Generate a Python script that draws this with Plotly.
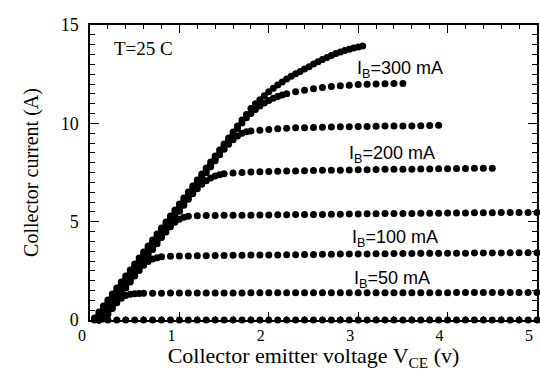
import plotly.graph_objects as go

# shared voltage grid (V) for the flat (active-region) parts of the curves
VCE = [0.1, 0.2, 0.3, 0.4, 0.5, 0.6, 0.7, 0.8, 0.9, 1.0,
       1.1, 1.2, 1.3, 1.4, 1.5, 1.6, 1.7, 1.8, 1.9, 2.0,
       2.1, 2.2, 2.3, 2.4, 2.5, 2.6, 2.7, 2.8, 2.9, 3.0,
       3.1, 3.2, 3.3, 3.4, 3.5, 3.6, 3.7, 3.8, 3.9, 4.0,
       4.1, 4.2, 4.3, 4.4, 4.5, 4.6, 4.7, 4.8, 4.9, 5.0]

# rising (saturation) voltage grid
VR = [0.10, 0.15, 0.20, 0.25, 0.30, 0.35, 0.40, 0.45, 0.50, 0.55,
      0.60, 0.65, 0.70, 0.75, 0.80, 0.85, 0.90, 0.95, 1.00, 1.05,
      1.10, 1.15, 1.20, 1.25, 1.30, 1.35, 1.40, 1.45, 1.50, 1.55,
      1.60, 1.65, 1.70, 1.75, 1.80, 1.85, 1.90, 1.95, 2.00, 2.05,
      2.10, 2.15, 2.20, 2.25, 2.30, 2.35, 2.40, 2.45, 2.50, 2.55,
      2.60, 2.65, 2.70, 2.75, 2.80, 2.85, 2.90, 2.95, 3.00, 3.05]

# IB = 0
ib0_x = [0.05] + VCE
ib0_y = [0.0, 0.0, 0.0, 0.0, 0.0, 0.0, 0.0, 0.0, 0.0, 0.0, 0.0,
         0.0, 0.0, 0.0, 0.0, 0.0, 0.0, 0.0, 0.0, 0.0, 0.0,
         0.0, 0.0, 0.0, 0.0, 0.0, 0.0, 0.0, 0.0, 0.0, 0.0,
         0.0, 0.0, 0.0, 0.0, 0.0, 0.0, 0.0, 0.0, 0.0, 0.0,
         0.0, 0.0, 0.0, 0.0, 0.0, 0.0, 0.0, 0.0, 0.0, 0.0]

# IB = 50 mA
ib50_rise_y = [0.00, 0.05, 0.29, 0.59, 0.88, 1.10, 1.24, 1.31, 1.34, 1.35]
ib50_flat_y = [1.36, 1.36, 1.36, 1.37, 1.37, 1.37, 1.37, 1.37, 1.37, 1.37,
               1.37, 1.37, 1.38, 1.38, 1.38, 1.38, 1.38, 1.38, 1.38, 1.38,
               1.38, 1.38, 1.38, 1.39, 1.39, 1.39, 1.39, 1.39, 1.39, 1.39,
               1.39, 1.39, 1.39, 1.39, 1.39, 1.40, 1.40, 1.40, 1.40, 1.40,
               1.40, 1.40, 1.40, 1.40, 1.40]
ib50_x = VR[:10] + VCE[5:]
ib50_y = ib50_rise_y + ib50_flat_y

# IB = 100 mA
ib100_rise_y = [0.00, 0.10, 0.41, 0.71, 1.02, 1.32, 1.63, 1.93, 2.24, 2.52,
                2.78, 2.98, 3.10, 3.17]
ib100_flat_y = [3.22, 3.24, 3.25, 3.26, 3.27, 3.27, 3.28, 3.28, 3.29, 3.29,
                3.30, 3.30, 3.31, 3.31, 3.32, 3.32, 3.33, 3.33, 3.34, 3.34,
                3.35, 3.35, 3.36, 3.36, 3.37, 3.37, 3.38, 3.38, 3.38, 3.39,
                3.39, 3.39, 3.40, 3.40, 3.40, 3.41, 3.41, 3.41, 3.41, 3.42,
                3.42, 3.42, 3.42]
ib100_x = VR[:14] + VCE[7:]
ib100_y = ib100_rise_y + ib100_flat_y

# IB = 150 mA
ib150_rise_y = [0.00, 0.22, 0.53, 0.83, 1.14, 1.44, 1.75, 2.05, 2.36, 2.66,
                2.97, 3.27, 3.58, 3.88, 4.19, 4.47, 4.74, 4.97, 5.12, 5.22]
ib150_flat_y = [5.28, 5.30, 5.31, 5.31, 5.32, 5.32, 5.33, 5.33, 5.34, 5.34,
                5.35, 5.35, 5.36, 5.36, 5.37, 5.37, 5.38, 5.38, 5.39, 5.39,
                5.40, 5.40, 5.41, 5.41, 5.42, 5.42, 5.43, 5.43, 5.43, 5.44,
                5.44, 5.44, 5.45, 5.45, 5.45, 5.46, 5.46, 5.46, 5.47, 5.47]
ib150_x = VR[:20] + VCE[10:]
ib150_y = ib150_rise_y + ib150_flat_y

# IB = 200 mA
ib200_rise_y = [0.04, 0.34, 0.65, 0.95, 1.26, 1.56, 1.87, 2.17, 2.48, 2.78,
                3.09, 3.39, 3.70, 4.00, 4.31, 4.61, 4.92, 5.22, 5.53, 5.83,
                6.14, 6.42, 6.68, 6.90, 7.08, 7.22, 7.32, 7.39]
ib200_flat_y = [7.44, 7.47, 7.50, 7.52, 7.54, 7.55, 7.56, 7.57, 7.58, 7.59,
                7.60, 7.61, 7.62, 7.62, 7.63, 7.64, 7.64, 7.65, 7.66, 7.66,
                7.67, 7.67, 7.68, 7.68, 7.69, 7.69, 7.70, 7.70, 7.71, 7.71,
                7.72]
ib200_x = VR[:28] + VCE[14:45]
ib200_y = ib200_rise_y + ib200_flat_y

# IB = 250 mA
ib250_rise_y = [0.17, 0.47, 0.78, 1.08, 1.39, 1.69, 2.00, 2.30, 2.61, 2.91,
                3.22, 3.52, 3.83, 4.13, 4.44, 4.74, 5.05, 5.35, 5.66, 5.96,
                6.27, 6.57, 6.88, 7.18, 7.49, 7.79, 8.10, 8.40, 8.68, 8.94,
                9.17, 9.36, 9.49, 9.57, 9.61]
ib250_flat_y = [9.65, 9.69, 9.72, 9.75, 9.77, 9.78, 9.79, 9.80, 9.81, 9.82,
                9.83, 9.84, 9.84, 9.85, 9.86, 9.86, 9.87, 9.87, 9.88, 9.89,
                9.90]
ib250_x = VR[:35] + VCE[18:39]
ib250_y = ib250_rise_y + ib250_flat_y

# IB = 300 mA
ib300_rise_y = [0.29, 0.59, 0.90, 1.20, 1.51, 1.81, 2.12, 2.42, 2.73, 3.03,
                3.34, 3.64, 3.95, 4.25, 4.56, 4.86, 5.17, 5.47, 5.78, 6.08,
                6.39, 6.69, 7.00, 7.30, 7.61, 7.91, 8.22, 8.52, 8.83, 9.13,
                9.44, 9.74, 10.02, 10.28, 10.50, 10.70, 10.88, 11.03, 11.16, 11.27,
                11.36, 11.44, 11.50]
ib300_flat_y = [11.60, 11.68, 11.76, 11.82, 11.87, 11.91, 11.94, 11.97, 11.99, 12.00,
                12.01, 12.02, 12.03]
ib300_x = VR[:43] + VCE[22:35]
ib300_y = ib300_rise_y + ib300_flat_y

# top (unlabelled) curve
top_x = [0.05] + VR
top_y = [0.10,
         0.41, 0.71, 1.02, 1.32, 1.63, 1.93, 2.24, 2.54, 2.85, 3.15,
         3.46, 3.76, 4.07, 4.37, 4.68, 4.98, 5.29, 5.59, 5.90, 6.20,
         6.51, 6.81, 7.12, 7.42, 7.73, 8.03, 8.34, 8.64, 8.95, 9.25,
         9.56, 9.86, 10.17, 10.45, 10.75, 11.00, 11.20, 11.40, 11.60, 11.78,
         11.95, 12.10, 12.25, 12.40, 12.52, 12.64, 12.76, 12.88, 13.02, 13.13,
         13.25, 13.35, 13.45, 13.55, 13.63, 13.70, 13.77, 13.83, 13.88, 13.93]

curves = [(ib0_x, ib0_y), (ib50_x, ib50_y), (ib100_x, ib100_y),
          (ib150_x, ib150_y), (ib200_x, ib200_y), (ib250_x, ib250_y),
          (ib300_x, ib300_y), (top_x, top_y)]

labels = ["I<sub>B</sub>=300 mA", "I<sub>B</sub>=200 mA",
          "I<sub>B</sub>=100 mA", "I<sub>B</sub>=50 mA"]
label_x = [2.96, 2.87, 2.91, 2.93]
label_y = [12.76, 8.44, 4.12, 2.08]

fig = go.Figure()
for cx, cy in curves:
    fig.add_trace(go.Scatter(x=cx, y=cy, mode="markers",
                             marker=dict(color="black", size=7),
                             cliponaxis=False, showlegend=False,
                             hoverinfo="skip"))

for t, lx, ly in zip(labels, label_x, label_y):
    fig.add_annotation(x=lx, y=ly, text=t, showarrow=False,
                       xanchor="left", yanchor="middle",
                       font=dict(family="Liberation Sans", size=18, color="black"))

fig.add_annotation(x=0.25, y=13.83, text="T=25 C", showarrow=False,
                   xanchor="left", yanchor="middle",
                   font=dict(family="Liberation Serif", size=19, color="black"))

axis_common = dict(showline=True, linecolor="black", linewidth=1.5,
                   mirror="ticks", ticks="inside", tickcolor="black",
                   tickwidth=1.2, showgrid=False, zeroline=False)

fig.update_xaxes(range=[0, 5], dtick=1, tick0=0, ticklen=8,
                 minor=dict(dtick=0.2, ticks="inside", ticklen=4,
                            tickcolor="black", showgrid=False),
                 tickfont=dict(family="Liberation Serif", size=16, color="black"),
                 ticklabelshift=-8, ticklabelstandoff=0,
                 title=dict(text="Collector emitter voltage V<sub>CE</sub> (v)",
                            font=dict(family="Liberation Serif", size=22, color="black"),
                            standoff=6),
                 **axis_common)
fig.update_yaxes(range=[0, 15], dtick=5, tick0=0, ticklen=9,
                 minor=dict(dtick=0.5, ticks="inside", ticklen=5,
                            tickcolor="black", showgrid=False),
                 tickfont=dict(family="Liberation Serif", size=18, color="black"),
                 ticklabelstandoff=6,
                 title=dict(text="Collector current (A)",
                            font=dict(family="Liberation Serif", size=20, color="black"),
                            standoff=17),
                 **axis_common)

fig.update_layout(width=540, height=371,
                  margin=dict(l=90, r=3, t=25, b=51, autoexpand=False),
                  plot_bgcolor="white", paper_bgcolor="white")

fig.write_html("out.html")
